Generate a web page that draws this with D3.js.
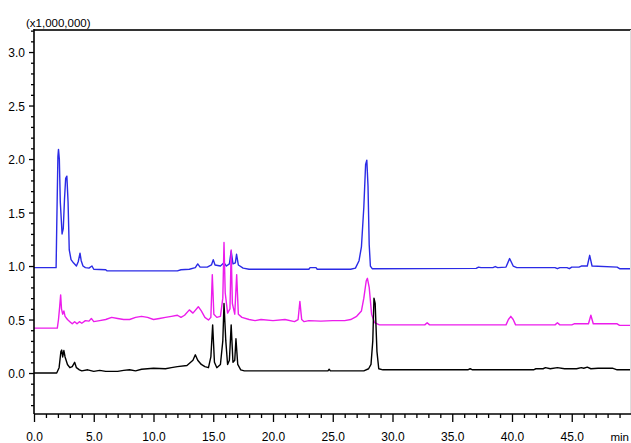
<!DOCTYPE html>
<html><head><meta charset="utf-8">
<script src="https://cdn.jsdelivr.net/npm/d3@7"></script>
<style>html,body{margin:0;padding:0;background:#fff;overflow:hidden}</style>
</head><body>
<svg id="c" width="631" height="443"></svg>
<script>
const xTicks = [0,5,10,15,20,25,30,35,40,45];
const xTickLabels = ["0.0","5.0","10.0","15.0","20.0","25.0","30.0","35.0","40.0","45.0"];
const yTicks = [0,0.5,1.0,1.5,2.0,2.5,3.0];
const yTickLabels = ["0.0","0.5","1.0","1.5","2.0","2.5","3.0"];
const yUnitLabel = "(x1,000,000)";
const xUnitLabel = "min";

const blueTrace = [[0,0.985],[1.85,0.985],[1.9,1.35],[2.0,2.02],[2.05,2.09],[2.12,2.0],[2.2,1.6],[2.35,1.3],[2.45,1.35],[2.55,1.62],[2.65,1.82],[2.75,1.84],[2.85,1.6],[2.95,1.15],[3.1,1.06],[3.3,1.03],[3.55,1.0],[3.7,1.04],[3.85,1.12],[3.95,1.05],[4.1,1.0],[4.3,0.985],[4.6,0.98],[4.85,1.0],[5.0,0.97],[6.0,0.965],[6.1,0.955],[12.0,0.955],[12.3,0.965],[13.0,0.97],[13.5,0.985],[13.7,1.02],[13.9,0.99],[14.5,0.99],[14.85,1.01],[15.0,1.06],[15.15,1.01],[15.6,1.0],[15.9,1.03],[16.1,1.0],[16.35,1.02],[16.5,1.14],[16.65,1.02],[16.85,1.03],[16.95,1.11],[17.1,1.01],[17.5,0.98],[18,0.97],[23.0,0.97],[23.1,0.985],[23.6,0.985],[23.7,0.97],[26.5,0.97],[26.9,0.98],[27.2,1.05],[27.4,1.18],[27.6,1.55],[27.75,1.95],[27.85,1.99],[27.95,1.75],[28.05,1.2],[28.15,1.0],[28.3,0.975],[37.0,0.978],[37.2,0.99],[37.4,0.985],[38.4,0.985],[38.6,0.995],[38.8,0.985],[39.5,0.99],[39.8,1.07],[40.1,1.0],[40.4,0.985],[43.6,0.985],[43.8,0.975],[44.0,0.985],[44.6,0.985],[44.8,0.975],[45.0,0.99],[45.6,0.99],[45.8,1.0],[46.3,1.0],[46.5,1.10],[46.7,1.0],[48.8,0.99],[49.0,0.975],[50,0.975]];

const magentaTrace = [[0,0.42],[1.95,0.42],[2.05,0.5],[2.15,0.62],[2.23,0.73],[2.3,0.6],[2.4,0.55],[2.5,0.58],[2.6,0.53],[2.8,0.5],[3.0,0.48],[3.2,0.46],[3.4,0.48],[3.6,0.46],[3.8,0.48],[4.0,0.465],[4.3,0.49],[4.6,0.485],[4.8,0.51],[5.0,0.48],[5.5,0.49],[6.0,0.5],[6.5,0.52],[7.0,0.51],[7.5,0.5],[8.0,0.5],[8.5,0.52],[9.0,0.53],[9.5,0.52],[10.0,0.5],[10.5,0.51],[11.0,0.52],[11.5,0.53],[12.0,0.54],[12.3,0.52],[12.6,0.54],[13.0,0.59],[13.3,0.56],[13.75,0.62],[14.0,0.58],[14.3,0.52],[14.6,0.495],[14.8,0.52],[14.92,0.92],[15.05,0.55],[15.3,0.52],[15.6,0.53],[15.8,0.7],[15.9,1.22],[16.0,0.75],[16.2,0.56],[16.4,0.6],[16.5,1.15],[16.6,0.65],[16.8,0.55],[16.96,0.92],[17.1,0.55],[17.4,0.52],[18.0,0.5],[18.5,0.49],[19,0.5],[20,0.49],[21,0.5],[21.8,0.48],[22.1,0.5],[22.25,0.67],[22.4,0.5],[22.6,0.48],[23,0.49],[24,0.485],[25,0.49],[26,0.49],[26.5,0.5],[27.0,0.53],[27.4,0.58],[27.6,0.7],[27.8,0.86],[27.9,0.885],[28.05,0.8],[28.25,0.55],[28.5,0.47],[28.9,0.45],[32.7,0.45],[32.9,0.47],[33.1,0.45],[39.5,0.45],[39.7,0.5],[39.9,0.53],[40.1,0.5],[40.3,0.45],[43.6,0.45],[43.8,0.47],[44.0,0.45],[45.0,0.45],[45.2,0.46],[46.4,0.46],[46.6,0.54],[46.8,0.46],[48.8,0.46],[49.0,0.445],[50,0.445]];

const blackTrace = [[0,0],[1.9,0],[2.1,0.05],[2.25,0.2],[2.32,0.215],[2.4,0.15],[2.5,0.21],[2.6,0.15],[2.8,0.08],[3.0,0.05],[3.2,0.06],[3.4,0.1],[3.55,0.05],[3.8,0.03],[4.0,0.02],[4.5,0.03],[5.0,0.015],[5.5,0.025],[6.0,0.015],[7.0,0.015],[7.5,0.025],[8.0,0.03],[8.5,0.02],[9.0,0.035],[10.0,0.045],[11.0,0.04],[11.5,0.05],[12.0,0.06],[12.8,0.07],[13.3,0.12],[13.5,0.17],[13.7,0.12],[14.0,0.08],[14.3,0.06],[14.6,0.05],[14.8,0.15],[14.95,0.45],[15.1,0.1],[15.3,0.05],[15.6,0.08],[15.8,0.3],[15.9,0.65],[16.05,0.3],[16.2,0.08],[16.35,0.12],[16.5,0.45],[16.65,0.1],[16.8,0.12],[16.9,0.32],[17.05,0.08],[17.3,0.03],[17.6,0.02],[24.6,0.02],[24.7,0.035],[24.8,0.02],[27.6,0.02],[28.0,0.04],[28.2,0.08],[28.35,0.3],[28.45,0.7],[28.55,0.65],[28.7,0.2],[28.85,0.04],[29.2,0.03],[36.3,0.03],[36.5,0.04],[36.7,0.03],[41.8,0.03],[42.0,0.04],[42.6,0.04],[42.8,0.05],[43.2,0.04],[43.8,0.05],[44.4,0.04],[45.4,0.04],[45.8,0.05],[46.0,0.045],[46.3,0.055],[46.6,0.04],[47.2,0.045],[48.4,0.045],[48.8,0.03],[50,0.03]];

const traces = [
  {data: blueTrace, color: "#2b2be6"},
  {data: magentaTrace, color: "#ec1cec"},
  {data: blackTrace, color: "#000000"}
];

const svg = d3.select("#c");
const mLeft = 34, mRight = 631.5, mTop = 30, mBottom = 414;
const x = d3.scaleLinear().domain([0, 50]).range([mLeft, mRight]);
const y = d3.scaleLinear().domain([-0.383, 3.206]).range([mBottom, mTop]);

const font = "'Liberation Sans', Arial, sans-serif";

// traces
const line = d3.line().x(d => x(d[0])).y(d => y(d[1]));
svg.append("clipPath").attr("id","clip").append("rect")
  .attr("x", mLeft).attr("y", mTop).attr("width", mRight-mLeft).attr("height", mBottom-mTop);
const lines = svg.append("g").attr("clip-path","url(#clip)");
traces.forEach(t => {
  lines.append("path").attr("d", line(t.data)).attr("fill","none")
    .attr("stroke", t.color).attr("stroke-width", 1.4).attr("stroke-linejoin","round");
});

// frame
svg.append("line").attr("x1", mLeft).attr("x2", 631).attr("y1", mTop).attr("y2", mTop)
  .attr("stroke", "#333").attr("stroke-width", 2);
svg.append("line").attr("x1", 630.5).attr("x2", 630.5).attr("y1", mTop).attr("y2", mBottom)
  .attr("stroke", "#ddd").attr("stroke-width", 1);

// y axis
const yAxis = d3.axisLeft(y).tickValues(yTicks).tickSize(5).tickPadding(4)
  .tickFormat((d,i) => yTickLabels[i]);
const yg = svg.append("g").attr("transform", `translate(${mLeft},0)`).call(yAxis);
const yMinor = d3.axisLeft(y).tickValues(d3.range(-3, 33).map(i => i/10).filter(v => Math.round(v*10)%5 !== 0))
  .tickSize(3).tickFormat("");
const ymg = svg.append("g").attr("transform", `translate(${mLeft},0)`).call(yMinor);
[yg, ymg].forEach(g => { g.select(".domain").remove(); g.selectAll("line").attr("stroke","#000").attr("stroke-width",1.3); });
yg.selectAll("text").attr("font-family", font).attr("font-size", 12).attr("fill","#000").attr("dy","0.4em");

// x axis
const xAxis = d3.axisBottom(x).tickValues(xTicks).tickSize(8).tickPadding(10)
  .tickFormat((d,i) => xTickLabels[i]);
const xg = svg.append("g").attr("transform", `translate(0,${mBottom})`).call(xAxis);
const xMinor = d3.axisBottom(x).tickValues(d3.range(1, 50).filter(v => v % 5 !== 0))
  .tickSize(4).tickFormat("");
const xmg = svg.append("g").attr("transform", `translate(0,${mBottom})`).call(xMinor);
[xg, xmg].forEach(g => { g.select(".domain").remove(); g.selectAll("line").attr("stroke","#000").attr("stroke-width",1.3); });
xg.selectAll("text").attr("font-family", font).attr("font-size", 12).attr("fill","#000");

// axis lines
svg.append("line").attr("x1", mLeft).attr("x2", mLeft).attr("y1", mTop-1).attr("y2", mBottom)
  .attr("stroke","#000").attr("stroke-width",1.6);
svg.append("line").attr("x1", mLeft).attr("x2", 631).attr("y1", mBottom).attr("y2", mBottom)
  .attr("stroke","#000").attr("stroke-width",1.6);

// unit labels
svg.append("text").attr("x", 26).attr("y", 27).attr("font-family", font).attr("font-size", 11.5)
  .attr("fill","#000").text(yUnitLabel);
svg.append("text").attr("x", 629).attr("y", mBottom + 27).attr("text-anchor","end")
  .attr("font-family", font).attr("font-size", 11.5)
  .attr("fill","#000").text(xUnitLabel);
</script>
</body></html>
